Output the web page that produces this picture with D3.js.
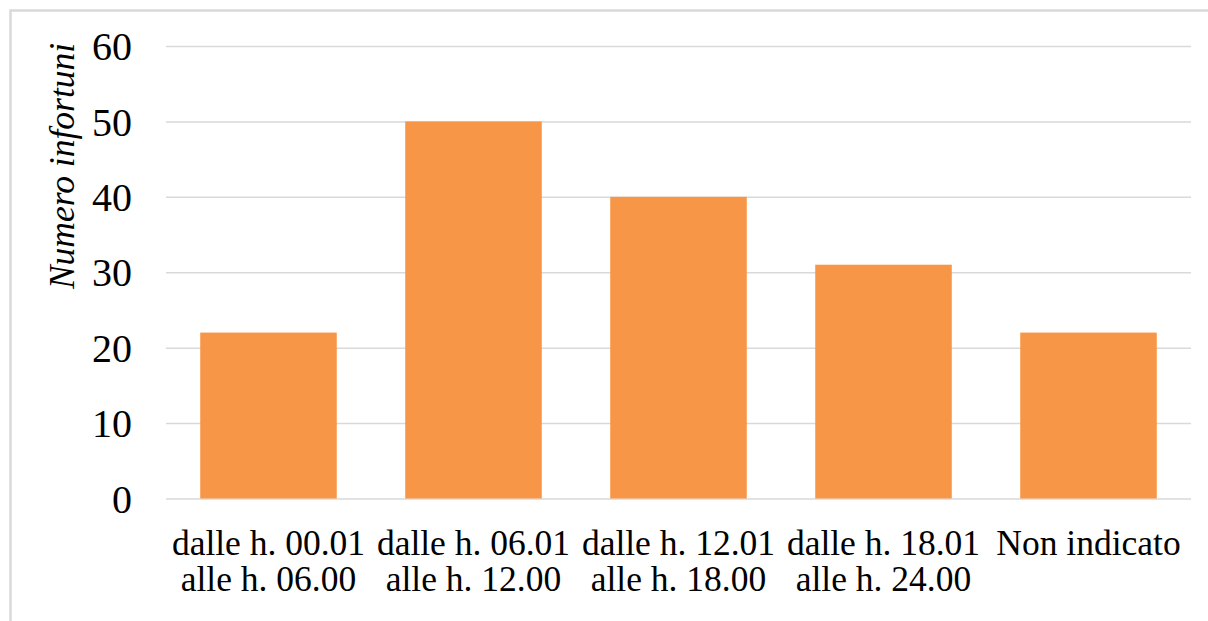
<!DOCTYPE html>
<html>
<head>
<meta charset="utf-8">
<script src="https://cdn.jsdelivr.net/npm/d3@7"></script>
<style>
  html, body { margin: 0; padding: 0; background: #ffffff; }
  svg { display: block; }
</style>
</head>
<body>
<script>
// Infortuni per fascia oraria
const categories = [
  ["dalle h. 00.01", "alle h. 06.00"],
  ["dalle h. 06.01", "alle h. 12.00"],
  ["dalle h. 12.01", "alle h. 18.00"],
  ["dalle h. 18.01", "alle h. 24.00"],
  ["Non indicato"]
];
const values = [22, 50, 40, 31, 22];
const yTicks = [0, 10, 20, 30, 40, 50, 60];
const yTitle = "Numero infortuni";

const W = 1208, H = 621;
const plot = { left: 166, right: 1191, top: 46, bottom: 498.5 };
const serif = "'Liberation Serif', 'Times New Roman', Times, serif";

const svg = d3.select("body").append("svg")
  .attr("width", W).attr("height", H);

// chart frame
svg.append("rect")
  .attr("x", 10.5).attr("y", 10.5)
  .attr("width", W + 20).attr("height", H + 20)
  .attr("fill", "none")
  .attr("stroke", "#d9d9d9")
  .attr("stroke-width", 2.5);

const x = d3.scaleBand()
  .domain(categories.map((d, i) => i))
  .range([plot.left, plot.right])
  .paddingInner(0.334)
  .paddingOuter(0.167);

const y = d3.scaleLinear()
  .domain([0, 60])
  .range([plot.bottom, plot.top]);

// horizontal gridlines and value labels
const yAxis = d3.axisLeft(y)
  .tickValues(yTicks)
  .tickSize(-(plot.right - plot.left))
  .tickPadding(34)
  .tickFormat(d3.format("d"));

const gy = svg.append("g")
  .attr("transform", `translate(${plot.left},0)`)
  .call(yAxis);
gy.select(".domain").remove();
gy.selectAll(".tick line")
  .attr("stroke", "#d9d9d9")
  .attr("stroke-width", 1.5);
gy.selectAll(".tick text")
  .attr("fill", "#000")
  .attr("font-family", serif)
  .attr("font-size", 40)
  .attr("dy", "0.34em");

// bars
svg.append("g").selectAll("rect")
  .data(values)
  .join("rect")
  .attr("x", (d, i) => x(i))
  .attr("width", x.bandwidth())
  .attr("y", d => y(d))
  .attr("height", d => y(0) - y(d))
  .attr("fill", "#f79646");

// category labels
const xAxis = d3.axisBottom(x)
  .tickSize(0)
  .tickFormat(() => "");
const gx = svg.append("g")
  .attr("transform", `translate(0,${plot.bottom})`)
  .call(xAxis);
gx.select(".domain").remove();
gx.selectAll(".tick").each(function (d) {
  const t = d3.select(this).append("text")
    .attr("fill", "#000")
    .attr("text-anchor", "middle")
    .attr("font-family", serif)
    .attr("font-size", 35.5);
  categories[d].forEach((line, j) => {
    t.append("tspan")
      .attr("x", 0)
      .attr("y", 56 + j * 36)
      .text(line);
  });
});

// y axis title
svg.append("text")
  .attr("transform", `translate(74,166) rotate(-90)`)
  .attr("text-anchor", "middle")
  .attr("font-family", serif)
  .attr("font-style", "italic")
  .attr("font-size", 35.5)
  .attr("fill", "#000")
  .text(yTitle);
</script>
</body>
</html>
